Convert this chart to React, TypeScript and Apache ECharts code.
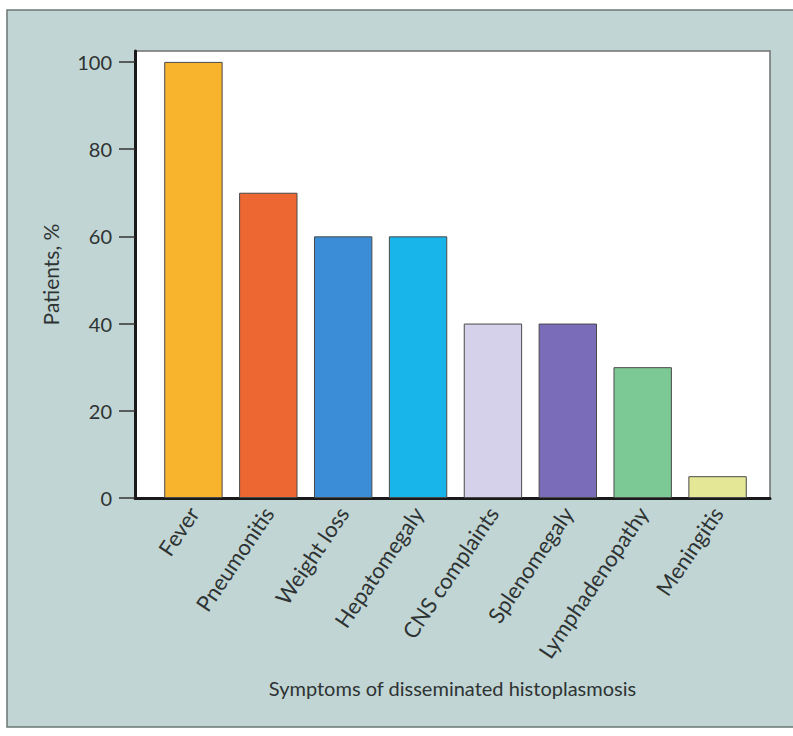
import React, { useEffect, useRef } from "react";
import * as echarts from "echarts";

const categories = [
  "Fever",
  "Pneumonitis",
  "Weight loss",
  "Hepatomegaly",
  "CNS complaints",
  "Splenomegaly",
  "Lymphadenopathy",
  "Meningitis",
];
const values = [100, 70, 60, 60, 40, 40, 30, 5];
const barColors = [
  "#f8b42c",
  "#ec6731",
  "#3a8dd6",
  "#17b5ea",
  "#d6d1ea",
  "#7b6cba",
  "#7cc995",
  "#e4e795",
];
const yTicks = [0, 20, 40, 60, 80, 100];
const yTitle = "Patients, %";
const xTitle = "Symptoms of disseminated histoplasmosis";

const FONT = "Lato, 'Open Sans', sans-serif";

export default function App() {
  const ref = useRef<HTMLDivElement>(null);
  useEffect(() => {
    if (!ref.current) return;
    const chart = echarts.init(ref.current, null, { renderer: "svg" });
    chart.setOption({
      animation: false,
      backgroundColor: "#ffffff",
      graphic: [
        {
          type: "rect",
          z: -10,
          silent: true,
          shape: { x: 7, y: 10, width: 800, height: 717 },
          style: { fill: "#c1d5d4", stroke: "#6b7575", lineWidth: 1.5 },
        },
      ],
      grid: [
        {
          left: 135,
          right: 23,
          top: 51,
          bottom: 238,
          show: true,
          backgroundColor: "#ffffff",
          borderColor: "#707070",
          borderWidth: 1.5,
        },
        {
          left: 156,
          right: 38,
          top: 51,
          bottom: 238,
        },
      ],
      xAxis: [
        {
          gridIndex: 0,
          type: "category",
          data: [""],
          axisLine: { show: true, lineStyle: { color: "#1a1a1a", width: 3 } },
          axisTick: { show: false },
          axisLabel: { show: false },
          name: xTitle,
          nameLocation: "middle",
          nameGap: 180,
          nameTextStyle: { fontFamily: FONT, fontSize: 20, color: "#2e3333" },
        },
        {
          gridIndex: 1,
          type: "category",
          data: categories,
          axisLine: { show: false },
          axisTick: { show: false },
          axisLabel: {
            rotate: 56,
            interval: 0,
            margin: 11,
            fontFamily: FONT,
            fontSize: 22,
            color: "#2e3333",
          },
        },
      ],
      yAxis: [
        {
          gridIndex: 0,
          type: "value",
          min: 0,
          max: 102.5,
          splitLine: { show: false },
          axisLine: { show: true, lineStyle: { color: "#1a1a1a", width: 3 } },
          axisTick: {
            show: true,
            length: 16,
            customValues: yTicks,
            lineStyle: { color: "#333", width: 1.5 },
          },
          axisLabel: {
            customValues: yTicks,
            margin: 23,
            fontFamily: FONT,
            fontSize: 20,
            color: "#2e3333",
          },
          name: yTitle,
          nameLocation: "middle",
          nameGap: 74,
          nameTextStyle: { fontFamily: FONT, fontSize: 21, color: "#2e3333" },
        },
        {
          gridIndex: 1,
          type: "value",
          min: 0,
          max: 102.5,
          show: false,
        },
      ],
      series: [
        {
          type: "bar",
          xAxisIndex: 1,
          yAxisIndex: 1,
          barCategoryGap: "22%",
          data: values.map((v, i) => ({
            value: v,
            itemStyle: {
              color: barColors[i],
              borderColor: "#4a4a4a",
              borderWidth: 1,
            },
          })),
        },
      ],
    });
    return () => chart.dispose();
  }, []);
  return (
    <div
      ref={ref}
      style={{ position: "fixed", left: 0, top: 0, width: 793, height: 736 }}
    />
  );
}
